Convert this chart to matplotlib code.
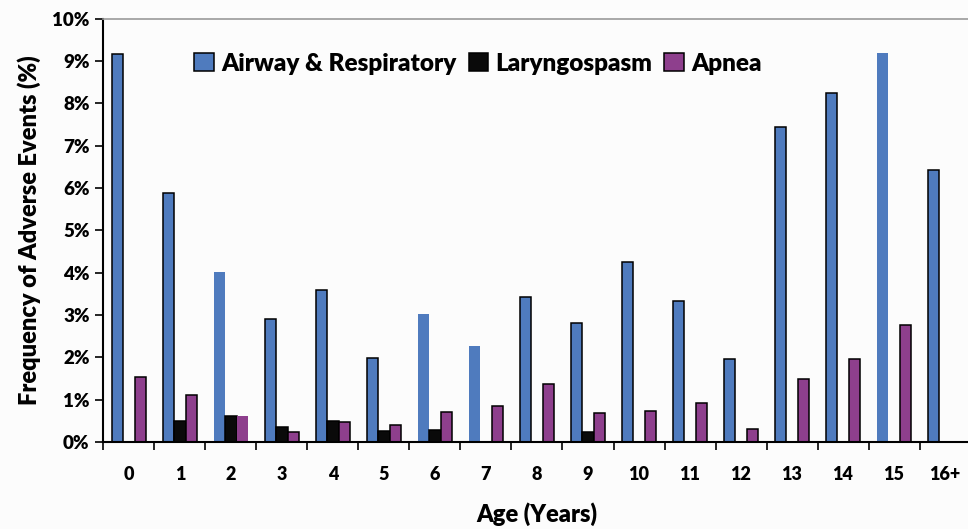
import matplotlib.pyplot as plt
import numpy as np

ages = ["0", "1", "2", "3", "4", "5", "6", "7", "8", "9", "10", "11", "12", "13", "14", "15", "16+"]
airway = [9.17, 5.88, 4.01, 2.91, 3.58, 1.99, 3.03, 2.26, 3.42, 2.80, 4.26, 3.34, 1.95, 7.44, 8.25, 9.20, 6.42]
laryngospasm = [0, 0.49, 0.61, 0.35, 0.49, 0.27, 0.29, 0, 0, 0.23, 0, 0, 0, 0, 0, 0, 0]
apnea = [1.53, 1.10, 0.61, 0.23, 0.48, 0.39, 0.71, 0.86, 1.37, 0.69, 0.74, 0.91, 0.31, 1.49, 1.95, 2.76, 0]

# bars drawn without outline in the source picture
no_edge_airway = {2, 6, 7, 15}
no_edge_apnea = {2}

BLUE = "#4F7BBE"
PURPLE = "#8E3F8D"
FONT = "Lato"
WEIGHT = "heavy"

plt.rcParams["font.family"] = FONT
plt.rcParams["font.weight"] = WEIGHT

fig = plt.figure(figsize=(9.68, 5.29), dpi=100, facecolor="#fcfcfc")
ax = fig.add_axes([0.1069, 0.1645, 0.8957, 0.80])
ax.set_facecolor("#fcfcfc")

x = np.arange(len(ages))
w = 0.225

def bars(vals, offset, color, no_edge, label):
	ec = ["none" if i in no_edge else "black" for i in range(len(vals))]
	b = ax.bar(x + offset, vals, w, color=color, edgecolor=ec, linewidth=1.1, label=label)
	return b

bars(airway, -w, BLUE, no_edge_airway, "Airway & Respiratory")
bars(laryngospasm, 0, "#0a0a0a", set(), "Laryngospasm")
bars(apnea, w, PURPLE, no_edge_apnea, "Apnea")

ax.set_xlim(-0.5, len(ages) - 0.5)
ax.set_ylim(0, 10)
ax.set_yticks(np.arange(0, 11, 1))
ax.set_yticklabels(["{}%".format(i) for i in range(11)], fontsize=13.5, fontweight=WEIGHT)
ax.set_xticks(x)
ax.set_xticklabels(ages, fontsize=13, fontweight=WEIGHT)
ax.set_xticks(np.arange(-0.5, len(ages), 1), minor=True)
ax.tick_params(axis="x", which="major", length=0, pad=17)
ax.tick_params(axis="x", which="minor", length=6, width=1.2, direction="out")
ax.tick_params(axis="y", length=6, width=1.2, direction="out", pad=4)

ax.spines["right"].set_visible(False)
ax.spines["top"].set_color("#9a9a9a")
ax.spines["top"].set_linewidth(1.2)
ax.spines["left"].set_linewidth(1.5)
ax.spines["bottom"].set_linewidth(1.5)

ax.set_ylabel("Frequency of Adverse Events (%)", fontsize=17, fontweight=WEIGHT, labelpad=8)
ax.set_xlabel("Age (Years)", fontsize=17, fontweight=WEIGHT, labelpad=14)

leg = ax.legend(ncol=3, loc="center", bbox_to_anchor=(0.432, 0.894), frameon=False,
	fontsize=17.5, handlelength=0.8, handleheight=0.8, handletextpad=0.3, columnspacing=0.5)
for h in leg.legend_handles:
	h.set_edgecolor("black")
	h.set_linewidth(1.1)

fig.savefig("out.png", dpi=100, facecolor=fig.get_facecolor())
plt.close()
